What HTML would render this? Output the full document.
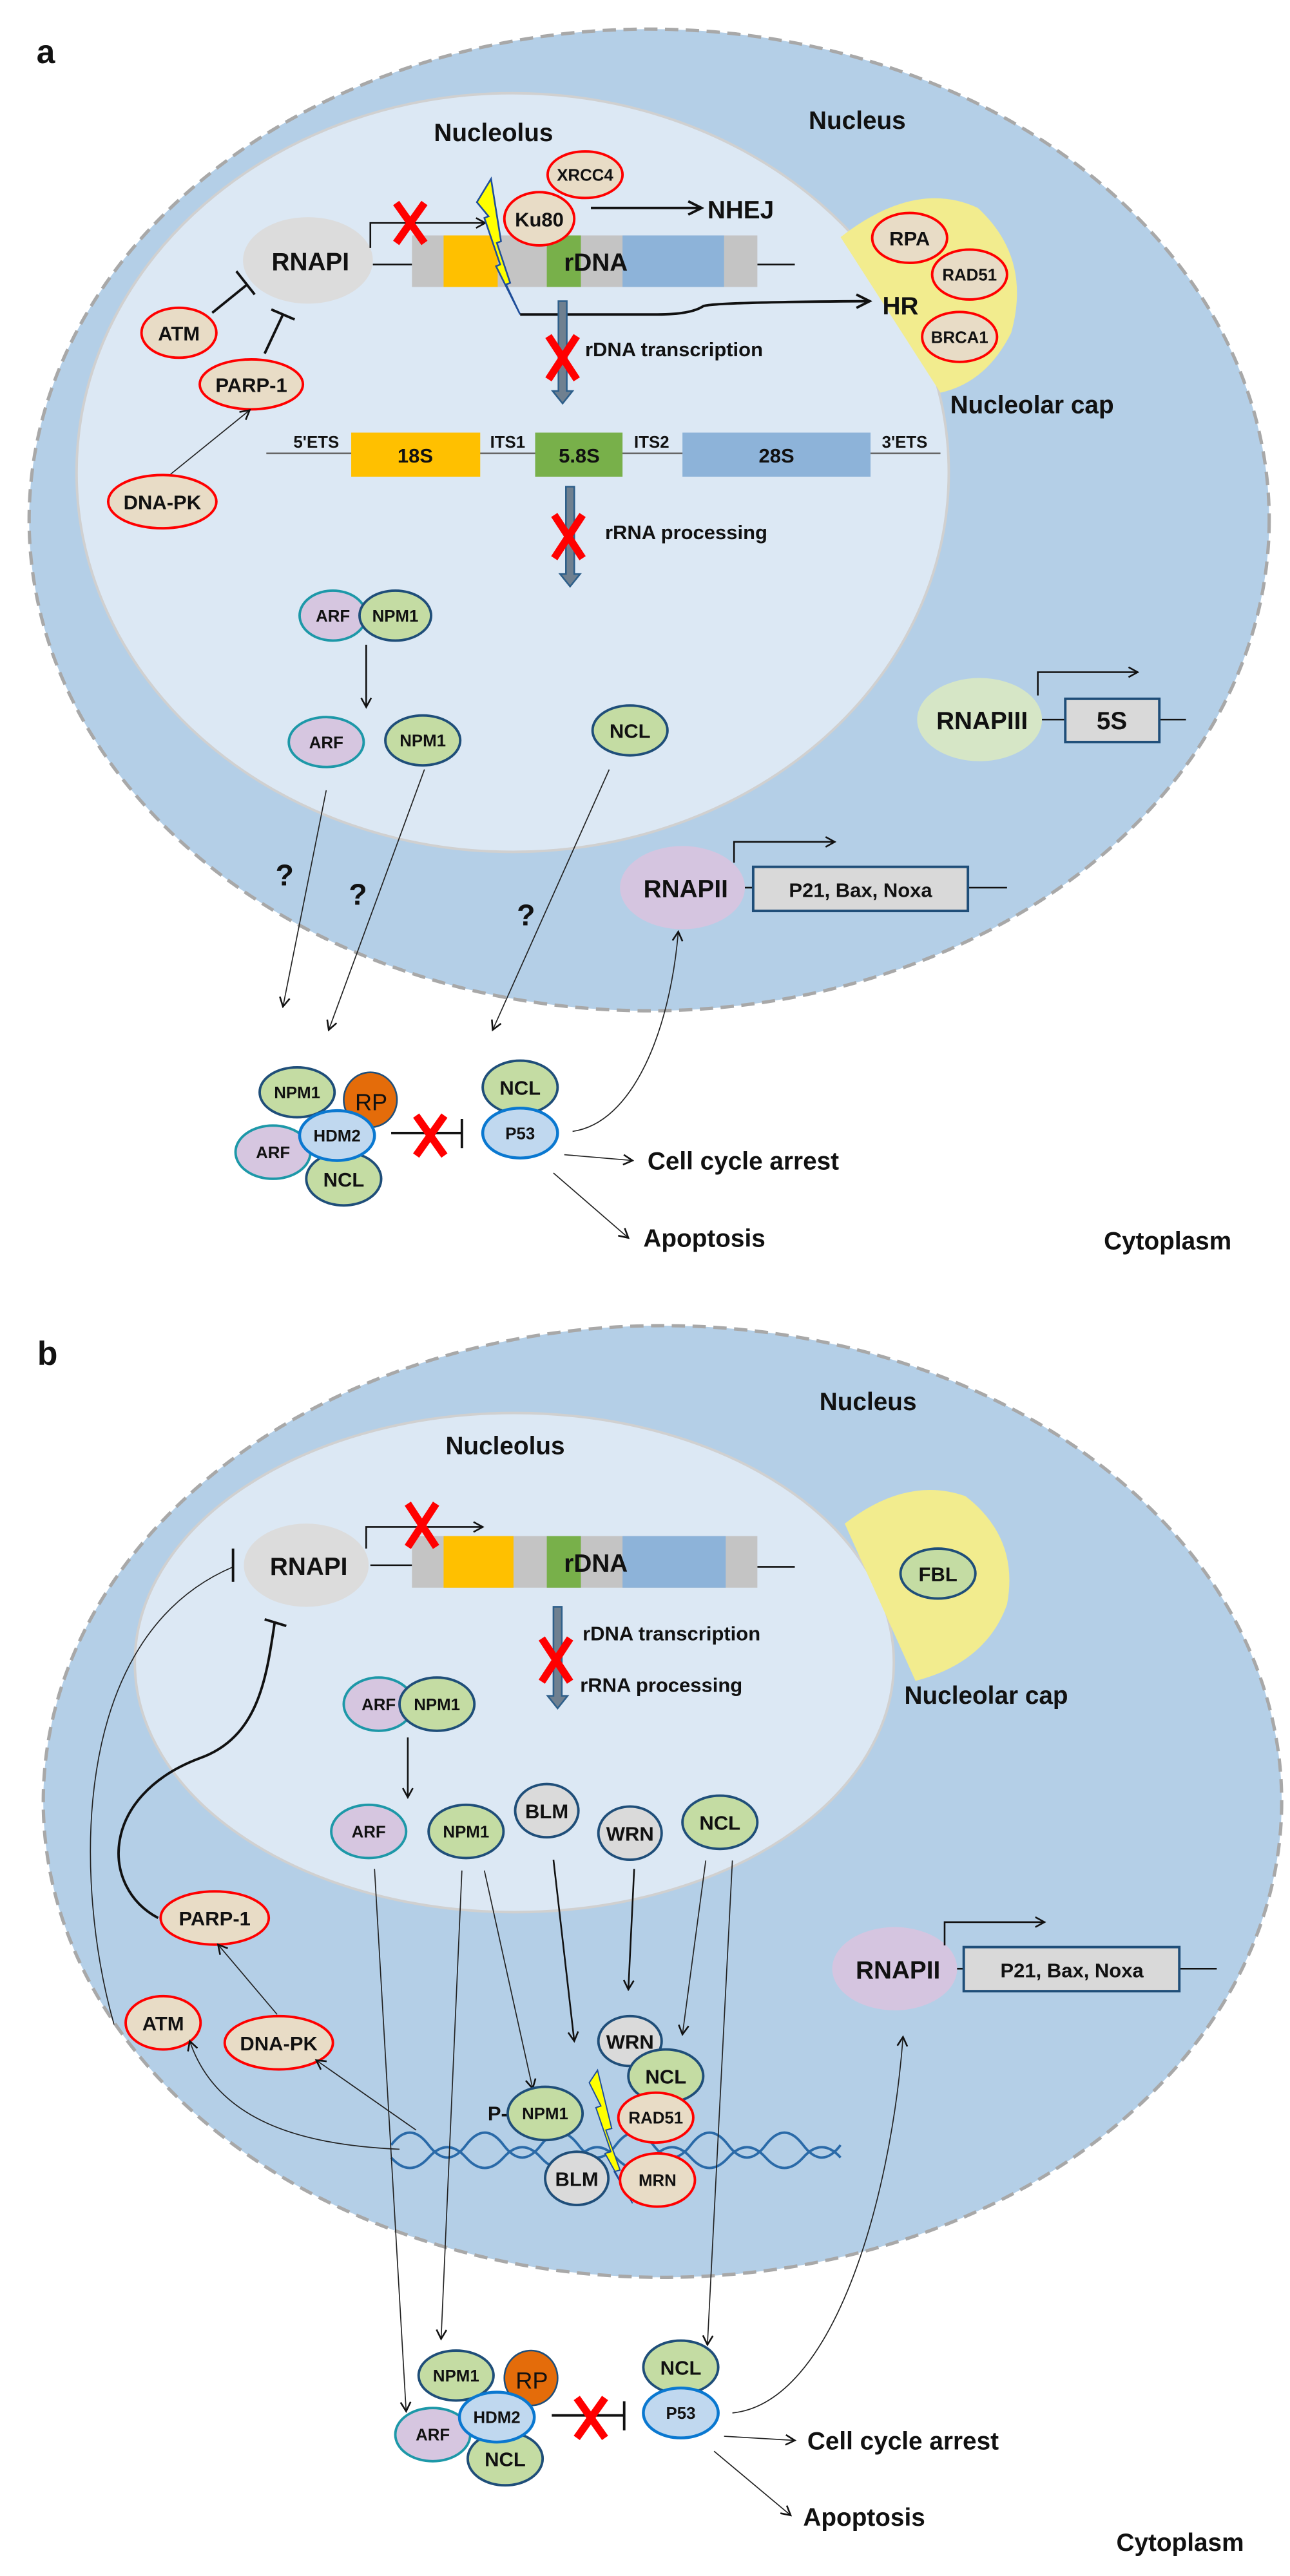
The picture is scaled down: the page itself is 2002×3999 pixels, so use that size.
<!DOCTYPE html>
<html><head><meta charset="utf-8"><style>
html,body{margin:0;padding:0;background:#fff;}
svg{display:block;}
text{font-family:"Liberation Sans",sans-serif;font-weight:bold;fill:#111;}
.c{text-anchor:middle;dominant-baseline:central;}
.L{font-size:30px;}
.m{font-size:24px;}
.s{font-size:20px;}
.ln{stroke:#111;stroke-width:2;fill:none;}
.ln3{stroke:#111;stroke-width:3;fill:none;}
.thin{stroke:#222;stroke-width:1.3;fill:none;}
.red{fill:#e8dcc6;stroke:#f00;stroke-width:3;}
.grn{fill:#c4dca3;stroke:#1f4e79;stroke-width:3;}
.pur{fill:#d6c6e0;stroke:#1d98a8;stroke-width:3;}
.gry{fill:#dadada;stroke:#1f4e79;stroke-width:3;}
.blu{fill:#c0d8ef;stroke:#0a78d0;stroke-width:3.5;}
.x{stroke:#f00;stroke-width:9;stroke-linecap:butt;}
</style></head><body>
<svg width="2002" height="3999" viewBox="0 0 1550 3096.5" preserveAspectRatio="none" xmlns="http://www.w3.org/2000/svg">
<defs>
<marker id="a" markerWidth="14" markerHeight="14" refX="12" refY="7" orient="auto" markerUnits="userSpaceOnUse"><path d="M1,1 L12,7 L1,13" fill="none" stroke="#111" stroke-width="2"/></marker>
<marker id="ab" markerWidth="20" markerHeight="20" refX="17" refY="10" orient="auto" markerUnits="userSpaceOnUse"><path d="M1,2 L17,10 L1,18" fill="none" stroke="#111" stroke-width="3"/></marker>
</defs>
<rect width="1550" height="3096.5" fill="#fff"/>

<!-- ================= PANEL A ================= -->
<g>
<text x="55" y="62" class="c" style="font-size:40px">a</text>
<ellipse cx="780" cy="625" rx="745" ry="590" fill="#b4cfe7" stroke="#a8a8a8" stroke-width="4" stroke-dasharray="16,9"/>
<ellipse cx="616" cy="568" rx="524" ry="456" fill="#dce8f4" stroke="#d0d0d0" stroke-width="3"/>
<text x="1030" y="145" class="c L">Nucleus</text>
<text x="593" y="160" class="c L">Nucleolus</text>

<!-- nucleolar cap -->
<path d="M1010,285 Q1100,215 1175,250 Q1240,310 1215,400 Q1185,460 1130,472 Z" fill="#f2ec8e"/>
<ellipse cx="1093" cy="286" rx="45" ry="30" class="red"/><text x="1093" y="287" class="c m">RPA</text>
<ellipse cx="1165" cy="330" rx="45" ry="30" class="red"/><text x="1165" y="331" class="c s">RAD51</text>
<ellipse cx="1153" cy="405" rx="45" ry="30" class="red"/><text x="1153" y="406" class="c s">BRCA1</text>
<text x="1082" y="368" class="c L">HR</text>
<text x="1240" y="487" class="c L">Nucleolar cap</text>

<!-- RNAPI -->
<ellipse cx="370" cy="313" rx="78" ry="52" fill="#dcdcdc"/>
<text x="373" y="315" class="c L">RNAPI</text>
<line x1="448" y1="318" x2="495" y2="318" class="ln"/>
<line x1="910" y1="318" x2="955" y2="318" class="ln"/>
<rect x="495" y="283" width="415" height="62" fill="#c4c4c4"/>
<rect x="533" y="283" width="65" height="62" fill="#ffc000"/>
<rect x="657" y="283" width="41" height="62" fill="#78b04a"/>
<rect x="748" y="283" width="122" height="62" fill="#8db3d9"/>
<text x="716" y="316" class="c L">rDNA</text>
<polyline points="445,298 445,268 583,268" class="ln" marker-end="url(#a)"/>
<g transform="translate(493,268)"><line x1="-17" y1="-24" x2="17" y2="24" class="x"/><line x1="17" y1="-24" x2="-17" y2="24" class="x"/></g>
<!-- lightning -->
<path d="M590,215 L602,290 L597,292 L613,340 L608,342 L625,378 L596,320 L601,318 L582,262 L587,260 L573,243 Z" fill="#ffff00" stroke="#1f4e9a" stroke-width="2"/>
<ellipse cx="703" cy="210" rx="45" ry="28" class="red"/><text x="703" y="211" class="c s">XRCC4</text>
<ellipse cx="648" cy="263" rx="42" ry="32" class="red"/><text x="648" y="264" class="c m">Ku80</text>
<line x1="710" y1="250" x2="843" y2="250" class="ln3" marker-end="url(#ab)"/>
<text x="890" y="253" class="c L">NHEJ</text>
<path d="M625,378 L790,378 Q830,378 845,368 Q860,363 1045,362" class="ln3" marker-end="url(#ab)"/>

<!-- ATM/PARP/DNAPK -->
<line x1="255" y1="376" x2="297" y2="342" class="ln3"/><line x1="284" y1="326" x2="306" y2="354" class="ln3"/>
<line x1="318" y1="425" x2="340" y2="378" class="ln3"/><line x1="326" y1="372" x2="354" y2="384" class="ln3"/>
<ellipse cx="215" cy="400" rx="45" ry="30" class="red"/><text x="215" y="401" class="c m">ATM</text>
<ellipse cx="302" cy="462" rx="62" ry="30" class="red"/><text x="302" y="463" class="c m">PARP-1</text>
<line x1="205" y1="570" x2="300" y2="493" class="thin" marker-end="url(#a)"/>
<ellipse cx="195" cy="603" rx="65" ry="32" class="red"/><text x="195" y="604" class="c m">DNA-PK</text>

<!-- transcription arrow -->
<path d="M671,362 L681,362 L681,470 L688,470 L676,485 L664,470 L671,470 Z" fill="#6f8090" stroke="#2e5f8a" stroke-width="2"/>
<g transform="translate(676,430)"><line x1="-17" y1="-26" x2="17" y2="26" class="x"/><line x1="17" y1="-26" x2="-17" y2="26" class="x"/></g>
<text x="703" y="420" class="m" style="dominant-baseline:central">rDNA transcription</text>

<!-- rRNA -->
<line x1="320" y1="545" x2="1130" y2="545" stroke="#666" stroke-width="2"/>
<rect x="422" y="520" width="155" height="53" fill="#ffc000"/>
<rect x="643" y="520" width="105" height="53" fill="#78b04a"/>
<rect x="820" y="520" width="226" height="53" fill="#8db3d9"/>
<text x="499" y="548" class="c m">18S</text><text x="696" y="548" class="c m">5.8S</text><text x="933" y="548" class="c m">28S</text>
<text x="380" y="532" class="c s">5'ETS</text><text x="610" y="532" class="c s">ITS1</text><text x="783" y="532" class="c s">ITS2</text><text x="1087" y="532" class="c s">3'ETS</text>
<path d="M680,585 L690,585 L690,690 L697,690 L685,705 L673,690 L680,690 Z" fill="#6f8090" stroke="#2e5f8a" stroke-width="2"/>
<g transform="translate(683,645)"><line x1="-17" y1="-26" x2="17" y2="26" class="x"/><line x1="17" y1="-26" x2="-17" y2="26" class="x"/></g>
<text x="727" y="640" class="m" style="dominant-baseline:central">rRNA processing</text>

<!-- ARF NPM1 -->
<ellipse cx="400" cy="740" rx="40" ry="30" class="pur"/><text x="400" y="741" class="c s">ARF</text>
<ellipse cx="475" cy="740" rx="43" ry="30" class="grn"/><text x="475" y="741" class="c s">NPM1</text>
<line x1="440" y1="775" x2="440" y2="850" class="ln" marker-end="url(#a)"/>
<ellipse cx="392" cy="892" rx="45" ry="30" class="pur"/><text x="392" y="893" class="c s">ARF</text>
<ellipse cx="508" cy="890" rx="45" ry="30" class="grn"/><text x="508" y="891" class="c s">NPM1</text>
<ellipse cx="757" cy="878" rx="45" ry="30" class="grn"/><text x="757" y="879" class="c m">NCL</text>

<!-- RNAPIII -->
<ellipse cx="1177" cy="865" rx="75" ry="50" fill="#d6e6c6"/>
<text x="1180" y="867" class="c L">RNAPIII</text>
<line x1="1252" y1="865" x2="1280" y2="865" class="ln"/><line x1="1393" y1="865" x2="1425" y2="865" class="ln"/>
<rect x="1280" y="840" width="113" height="52" fill="#d9d9d9" stroke="#1f4e79" stroke-width="3"/>
<text x="1336" y="867" class="c L">5S</text>
<polyline points="1247,836 1247,808 1367,808" class="ln" marker-end="url(#a)"/>

<!-- RNAPII -->
<ellipse cx="820" cy="1067" rx="75" ry="50" fill="#d5c5e0"/>
<text x="824" y="1069" class="c L">RNAPII</text>
<line x1="895" y1="1067" x2="905" y2="1067" class="ln"/><line x1="1163" y1="1067" x2="1210" y2="1067" class="ln"/>
<rect x="905" y="1042" width="258" height="53" fill="#d9d9d9" stroke="#1f4e79" stroke-width="3"/>
<text x="1034" y="1070" class="c m">P21, Bax, Noxa</text>
<polyline points="882,1037 882,1012 1003,1012" class="ln" marker-end="url(#a)"/>

<!-- long arrows -->
<line x1="392" y1="950" x2="340" y2="1210" class="thin" marker-end="url(#a)"/>
<line x1="510" y1="925" x2="395" y2="1238" class="thin" marker-end="url(#a)"/>
<line x1="732" y1="925" x2="592" y2="1238" class="thin" marker-end="url(#a)"/>
<text x="342" y="1052" class="c" style="font-size:36px">?</text>
<text x="430" y="1075" class="c" style="font-size:36px">?</text>
<text x="632" y="1100" class="c" style="font-size:36px">?</text>

<!-- complex -->
<ellipse cx="357" cy="1313" rx="45" ry="30" class="grn"/><text x="357" y="1314" class="c s">NPM1</text>
<ellipse cx="445" cy="1322" rx="32" ry="33" fill="#e46c0a" stroke="#1f4e79" stroke-width="2"/><text x="446" y="1325" class="c" style="font-size:28px;font-weight:normal">RP</text>
<ellipse cx="328" cy="1385" rx="45" ry="32" class="pur"/><text x="328" y="1386" class="c s">ARF</text>
<ellipse cx="413" cy="1417" rx="45" ry="32" class="grn"/><text x="413" y="1418" class="c m">NCL</text>
<ellipse cx="405" cy="1365" rx="45" ry="30" class="blu"/><text x="405" y="1366" class="c s">HDM2</text>
<line x1="470" y1="1362" x2="555" y2="1362" class="ln3"/><line x1="555" y1="1345" x2="555" y2="1380" class="ln3"/>
<g transform="translate(517,1365)"><line x1="-17" y1="-24" x2="17" y2="24" class="x"/><line x1="17" y1="-24" x2="-17" y2="24" class="x"/></g>
<ellipse cx="625" cy="1307" rx="45" ry="32" class="grn"/><text x="625" y="1308" class="c m">NCL</text>
<ellipse cx="625" cy="1362" rx="45" ry="30" class="blu"/><text x="625" y="1363" class="c s">P53</text>
<path d="M688,1360 C760,1350 805,1240 815,1120" class="thin" marker-end="url(#a)"/>
<line x1="678" y1="1388" x2="760" y2="1395" class="thin" marker-end="url(#a)"/>
<text x="778" y="1396" class="L" style="dominant-baseline:central">Cell cycle arrest</text>
<line x1="665" y1="1410" x2="755" y2="1488" class="thin" marker-end="url(#a)"/>
<text x="773" y="1489" class="L" style="dominant-baseline:central">Apoptosis</text>
<text x="1403" y="1492" class="c L">Cytoplasm</text>
</g>

<!-- ================= PANEL B ================= -->
<g transform="translate(0,1548.5)">
<text x="57" y="78" class="c" style="font-size:40px">b</text>
<ellipse cx="796" cy="617" rx="744" ry="572" fill="#b4cfe7" stroke="#a8a8a8" stroke-width="4" stroke-dasharray="16,9"/>
<ellipse cx="618" cy="450" rx="456" ry="300" fill="#dce8f4" stroke="#d0d0d0" stroke-width="3"/>
<text x="1043" y="137" class="c L">Nucleus</text>
<text x="607" y="190" class="c L">Nucleolus</text>

<path d="M1015,283 Q1090,225 1160,250 Q1225,300 1210,380 Q1185,450 1100,472 Z" fill="#f2ec8e"/>
<ellipse cx="1127" cy="343" rx="45" ry="30" class="grn"/><text x="1127" y="344" class="c m">FBL</text>
<text x="1185" y="490" class="c L">Nucleolar cap</text>

<ellipse cx="368" cy="333" rx="75" ry="50" fill="#dcdcdc"/>
<text x="371" y="335" class="c L">RNAPI</text>
<line x1="445" y1="333" x2="495" y2="333" class="ln"/><line x1="910" y1="335" x2="955" y2="335" class="ln"/>
<rect x="495" y="298" width="415" height="62" fill="#c4c4c4"/>
<rect x="533" y="298" width="84" height="62" fill="#ffc000"/>
<rect x="657" y="298" width="41" height="62" fill="#78b04a"/>
<rect x="748" y="298" width="124" height="62" fill="#8db3d9"/>
<text x="716" y="331" class="c L">rDNA</text>
<polyline points="440,313 440,287 580,287" class="ln" marker-end="url(#a)"/>
<g transform="translate(507,285)"><line x1="-17" y1="-26" x2="17" y2="26" class="x"/><line x1="17" y1="-26" x2="-17" y2="26" class="x"/></g>

<path d="M665,383 L675,383 L675,490 L682,490 L670,505 L658,490 L665,490 Z" fill="#6f8090" stroke="#2e5f8a" stroke-width="2"/>
<g transform="translate(668,447)"><line x1="-17" y1="-26" x2="17" y2="26" class="x"/><line x1="17" y1="-26" x2="-17" y2="26" class="x"/></g>
<text x="700" y="415" class="m" style="dominant-baseline:central">rDNA transcription</text>
<text x="697" y="477" class="m" style="dominant-baseline:central">rRNA processing</text>

<ellipse cx="455" cy="500" rx="42" ry="32" class="pur"/><text x="455" y="501" class="c s">ARF</text>
<ellipse cx="525" cy="500" rx="45" ry="32" class="grn"/><text x="525" y="501" class="c s">NPM1</text>
<line x1="490" y1="540" x2="490" y2="612" class="ln" marker-end="url(#a)"/>
<ellipse cx="443" cy="653" rx="45" ry="32" class="pur"/><text x="443" y="654" class="c s">ARF</text>
<ellipse cx="560" cy="653" rx="45" ry="32" class="grn"/><text x="560" y="654" class="c s">NPM1</text>
<ellipse cx="657" cy="628" rx="38" ry="32" class="gry"/><text x="657" y="629" class="c m">BLM</text>
<ellipse cx="757" cy="655" rx="38" ry="32" class="gry"/><text x="757" y="656" class="c m">WRN</text>
<ellipse cx="865" cy="642" rx="45" ry="32" class="grn"/><text x="865" y="643" class="c m">NCL</text>

<!-- RNAPII -->
<ellipse cx="1075" cy="818" rx="75" ry="50" fill="#d5c5e0"/>
<text x="1079" y="820" class="c L">RNAPII</text>
<line x1="1150" y1="818" x2="1158" y2="818" class="ln"/><line x1="1417" y1="818" x2="1462" y2="818" class="ln"/>
<rect x="1158" y="792" width="259" height="53" fill="#d9d9d9" stroke="#1f4e79" stroke-width="3"/>
<text x="1288" y="820" class="c m">P21, Bax, Noxa</text>
<polyline points="1135,790 1135,762 1255,762" class="ln" marker-end="url(#a)"/>

<!-- left feedback -->
<path d="M137,885 C90,720 80,420 280,335" class="thin" stroke-width="2"/>
<line x1="280" y1="313" x2="280" y2="353" class="ln3"/>
<path d="M190,757 C120,720 120,610 240,565 C310,540 320,470 330,402" class="ln3" stroke-width="3"/>
<line x1="318" y1="398" x2="344" y2="406" class="ln3"/>
<ellipse cx="258" cy="757" rx="65" ry="32" class="red"/><text x="258" y="758" class="c m">PARP-1</text>
<line x1="333" y1="873" x2="262" y2="789" class="thin" marker-end="url(#a)"/>
<ellipse cx="196" cy="883" rx="45" ry="32" class="red"/><text x="196" y="884" class="c m">ATM</text>
<ellipse cx="335" cy="907" rx="65" ry="32" class="red"/><text x="335" y="908" class="c m">DNA-PK</text>
<line x1="500" y1="1012" x2="380" y2="928" class="thin" marker-end="url(#a)"/>
<path d="M480,1035 C360,1030 260,1000 228,905" class="thin" marker-end="url(#a)"/>

<!-- DNA helix -->
<path d="M470,1030 q22.5,-30 45,0 t45,0 t45,0 t45,0 t45,0 t45,0 t45,0 t45,0 t45,0 t45,0 t45,0 t45,0" fill="none" stroke="#2a6aa8" stroke-width="3"/>
<path d="M470,1045 q22.5,25 45,0 t45,0 t45,0 t45,0 t45,0 t45,0 t45,0 t45,0 t45,0 t45,0 t45,0 t45,0" fill="none" stroke="#2a6aa8" stroke-width="3"/>

<!-- arrows to damage site -->
<line x1="582" y1="700" x2="640" y2="962" class="thin" marker-end="url(#a)"/>
<line x1="665" y1="687" x2="690" y2="905" class="ln" stroke-width="2.5" marker-end="url(#a)"/>
<line x1="762" y1="698" x2="755" y2="843" class="ln" stroke-width="2.5" marker-end="url(#a)"/>
<line x1="848" y1="688" x2="820" y2="897" class="thin" marker-end="url(#a)"/>
<line x1="450" y1="698" x2="488" y2="1350" class="thin" marker-end="url(#a)"/>
<line x1="555" y1="700" x2="530" y2="1263" class="thin" marker-end="url(#a)"/>
<line x1="880" y1="688" x2="850" y2="1270" class="thin" marker-end="url(#a)"/>

<path d="M718,940 L735,1010 L728,1012 L745,1060 L738,1062 L760,1100 L727,1040 L734,1038 L716,985 L722,983 L708,955 Z" fill="#ffff00" stroke="#1f4e9a" stroke-width="1.5"/>
<text x="598" y="992" class="c m">P-</text>
<ellipse cx="655" cy="992" rx="45" ry="32" class="grn"/><text x="655" y="993" class="c s">NPM1</text>
<ellipse cx="757" cy="905" rx="38" ry="30" class="gry"/><text x="757" y="906" class="c m">WRN</text>
<ellipse cx="800" cy="947" rx="45" ry="32" class="grn"/><text x="800" y="948" class="c m">NCL</text>
<ellipse cx="788" cy="997" rx="45" ry="30" class="red"/><text x="788" y="998" class="c s">RAD51</text>
<ellipse cx="693" cy="1070" rx="38" ry="32" class="gry"/><text x="693" y="1071" class="c m">BLM</text>
<ellipse cx="790" cy="1072" rx="45" ry="32" class="red"/><text x="790" y="1073" class="c s">MRN</text>

<!-- complex -->
<ellipse cx="548" cy="1307" rx="45" ry="30" class="grn"/><text x="548" y="1308" class="c s">NPM1</text>
<ellipse cx="638" cy="1310" rx="32" ry="33" fill="#e46c0a" stroke="#1f4e79" stroke-width="2"/><text x="639" y="1313" class="c" style="font-size:28px;font-weight:normal">RP</text>
<ellipse cx="520" cy="1378" rx="45" ry="32" class="pur"/><text x="520" y="1379" class="c s">ARF</text>
<ellipse cx="607" cy="1407" rx="45" ry="32" class="grn"/><text x="607" y="1408" class="c m">NCL</text>
<ellipse cx="597" cy="1357" rx="45" ry="30" class="blu"/><text x="597" y="1358" class="c s">HDM2</text>
<line x1="663" y1="1355" x2="750" y2="1355" class="ln3"/><line x1="750" y1="1338" x2="750" y2="1373" class="ln3"/>
<g transform="translate(710,1358)"><line x1="-17" y1="-24" x2="17" y2="24" class="x"/><line x1="17" y1="-24" x2="-17" y2="24" class="x"/></g>
<ellipse cx="818" cy="1297" rx="45" ry="32" class="grn"/><text x="818" y="1298" class="c m">NCL</text>
<ellipse cx="818" cy="1352" rx="45" ry="30" class="blu"/><text x="818" y="1353" class="c s">P53</text>
<path d="M880,1352 C1000,1340 1070,1100 1085,900" class="thin" marker-end="url(#a)"/>
<line x1="870" y1="1380" x2="955" y2="1385" class="thin" marker-end="url(#a)"/>
<text x="970" y="1386" class="L" style="dominant-baseline:central">Cell cycle arrest</text>
<line x1="858" y1="1398" x2="950" y2="1475" class="thin" marker-end="url(#a)"/>
<text x="965" y="1478" class="L" style="dominant-baseline:central">Apoptosis</text>
<text x="1418" y="1508" class="c L">Cytoplasm</text>
</g>
</svg>
</body></html>
